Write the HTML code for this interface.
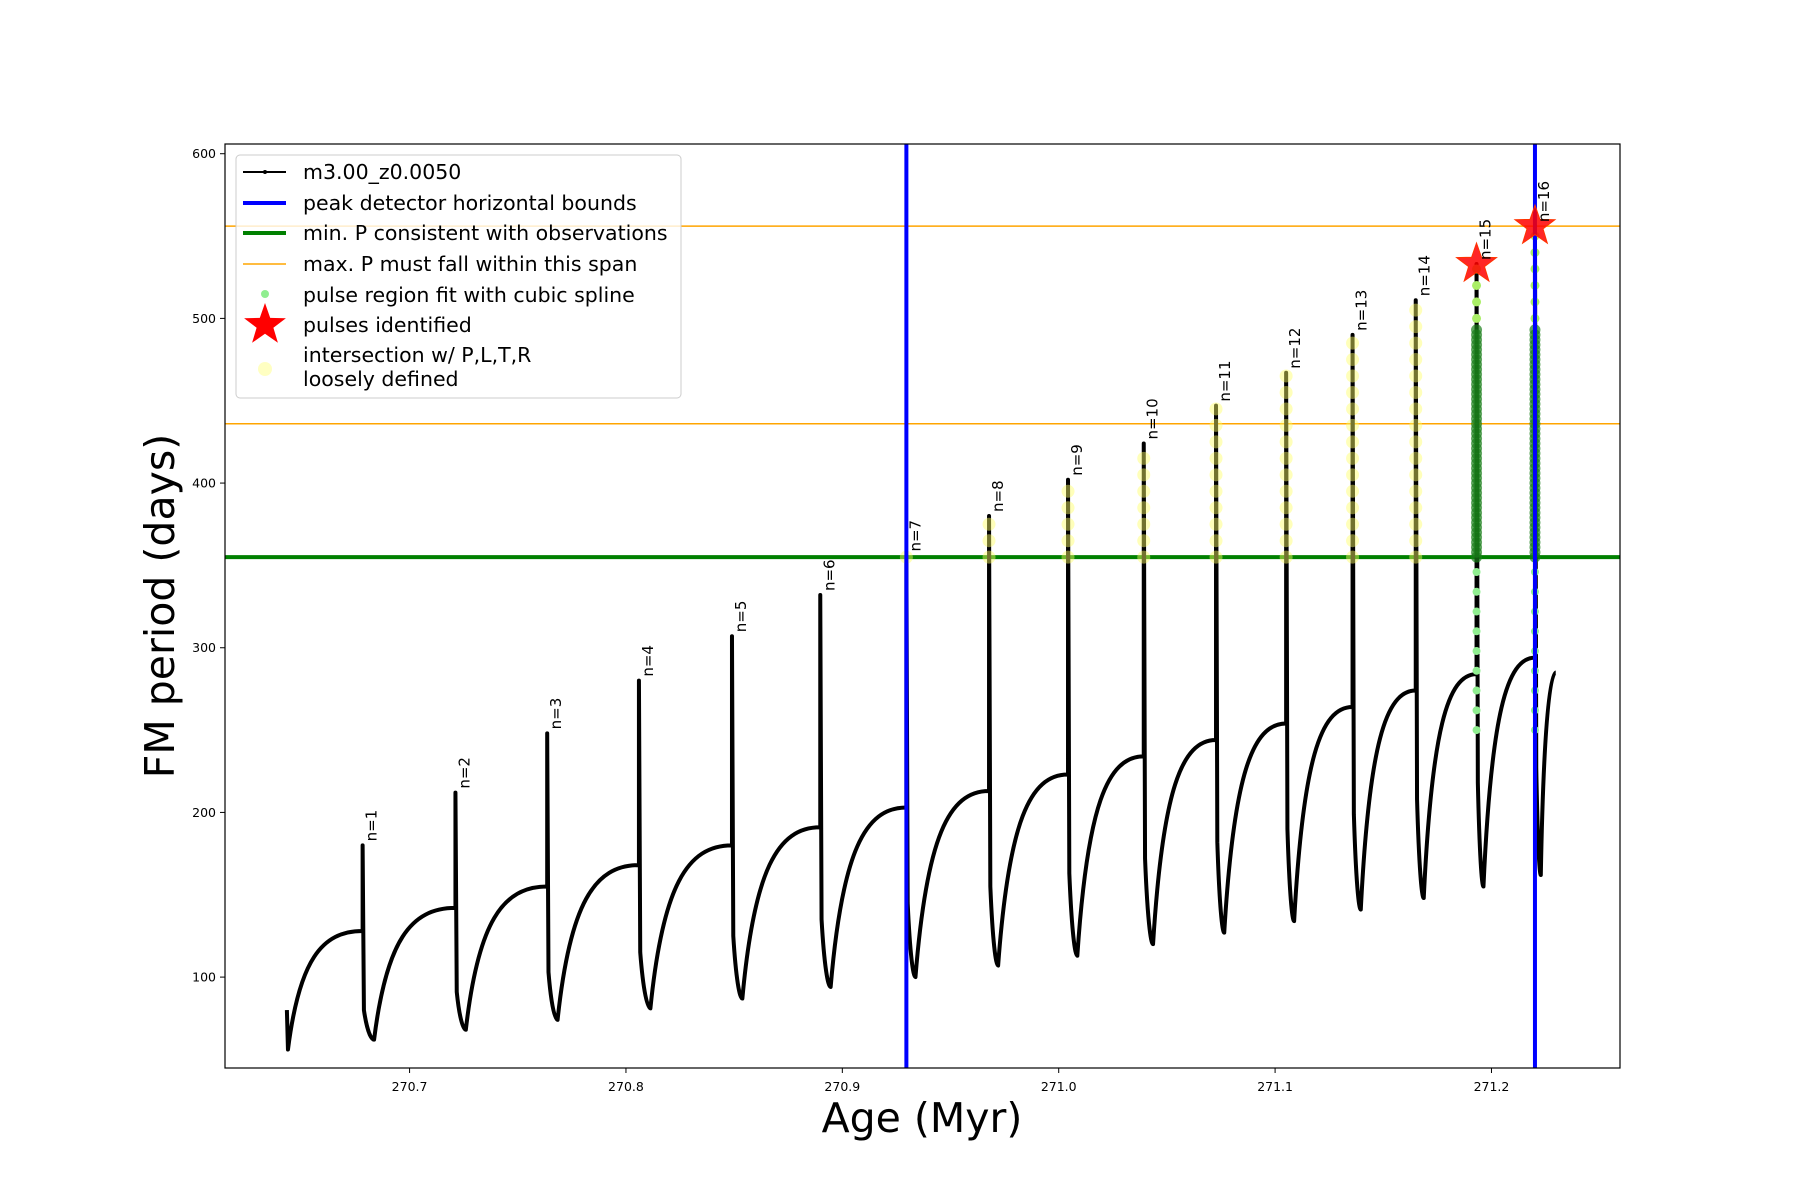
<!DOCTYPE html>
<html><head><meta charset="utf-8"><style>
body{margin:0;background:#fff}
svg{display:block;font-family:"DejaVu Sans","Liberation Sans",sans-serif}
</style></head><body>
<svg id="chart" width="1800" height="1200" viewBox="0 0 1800 1200">
<rect x="0" y="0" width="1800" height="1200" fill="#fff"/>
<g id="plot"></g>
<rect x="225" y="144" width="1395" height="924" fill="none" stroke="#000" stroke-width="1.2"/>
<g id="ticks"></g>
<text x="922" y="1132" font-size="41" text-anchor="middle">Age (Myr)</text>
<text transform="translate(174,606) rotate(-90)" font-size="41" text-anchor="middle">FM period (days)</text>
<g>
<rect x="236" y="155" width="445" height="243" rx="4" fill="#fff" fill-opacity="0.8" stroke="#ccc" stroke-width="1"/>
<g font-size="20.5" fill="#000">
<g><line x1="243" y1="172" x2="286" y2="172" stroke="#000" stroke-width="2"/><circle cx="265" cy="172" r="2" fill="#000"/><text x="303" y="179">m3.00_z0.0050</text></g>
<g><line x1="243" y1="203" x2="286" y2="203" stroke="#0000ff" stroke-width="4"/><text x="303" y="210">peak detector horizontal bounds</text></g>
<g><line x1="243" y1="233" x2="286" y2="233" stroke="#008000" stroke-width="4"/><text x="303" y="240">min. P consistent with observations</text></g>
<g><line x1="243" y1="264" x2="286" y2="264" stroke="#ffa500" stroke-width="1.5"/><text x="303" y="271">max. P must fall within this span</text></g>
<g><circle cx="265" cy="294" r="4" fill="#90ee90"/><text x="303" y="302">pulse region fit with cubic spline</text></g>
<g><polygon id="lstar" fill="#ff0000"/><text x="303" y="332">pulses identified</text></g>
<g><circle cx="265" cy="369" r="7" fill="#ffff99" fill-opacity="0.6"/><text x="303" y="362">intersection w/ P,L,T,R</text><text x="303" y="386">loosely defined</text></g>
</g></g>
</svg>
<script>
const pulseAge=[270.6783,270.7212,270.7636,270.8060,270.849,270.8898,270.9296,270.9678,271.0043,271.0393,271.0727,271.1051,271.1358,271.165,271.1931,271.2201];
const peakP=[180,212,248,280,307,332,356,380,402,424,447,467,490,511,533,556];
const plateauP=[128,142,155,168,180,191,203,213,223,234,244,254,264,274,284,294];
const postP=[80,91,103,115,125,135,145,155,163,172,182,190,199,208,218,227];
const dipAge=[270.6836,270.726,270.7684,270.8113,270.8538,270.8946,270.9338,270.972,271.0086,271.0436,271.0765,271.1088,271.1396,271.1687,271.1963,271.2228];
const dipP=[62,68,74,81,87,94,100,107,113,120,127,134,141,148,155,162];
const startAge=[270.6433,270.6438];const startP=[80,56];
const endAge=271.2297;const endP=285;
const xTicks=[270.7,270.8,270.9,271.0,271.1,271.2];
const xTickLabels=["270.7","270.8","270.9","271.0","271.1","271.2"];
const yTicks=[100,200,300,400,500,600];
const vBounds=[270.9296,271.2201];
const minP=355;const maxSpan=[436,556];
const starAge=[271.1931,271.2201];const starP=[533,556];

const X0=270.6147,X1=271.2594,Y0=44.8,Y1=605.9;
const X=t=>225+(t-X0)/(X1-X0)*1395;
const Y=v=>1068-(v-Y0)/(Y1-Y0)*924;
const NS="http://www.w3.org/2000/svg";
const plot=document.getElementById('plot');
function mk(tag,attrs,parent){const e=document.createElementNS(NS,tag);for(const k in attrs)e.setAttribute(k,attrs[k]);(parent||plot).appendChild(e);return e;}
function starPts(cx,cy,R){let p=[];for(let i=0;i<10;i++){const r=i%2?R*0.4:R;const a=-Math.PI/2+i*Math.PI/5;p.push((cx+r*Math.cos(a)).toFixed(1)+','+(cy+r*Math.sin(a)).toFixed(1));}return p.join(' ');}
document.getElementById('lstar').setAttribute('points',starPts(265,325,22));

let hl=mk('line',{x1:225,x2:1620,y1:Y(minP),y2:Y(minP),stroke:'#008000','stroke-width':4});


maxSpan.forEach(v=>{const l=mk('line',{x1:225,x2:1620,y1:Y(v),y2:Y(v),stroke:'#ffa500','stroke-width':1.5});

});

let d=`M${X(startAge[0])},${Y(startP[0])} L${X(startAge[1])},${Y(startP[1])}`;
let prevT=startAge[1],prevV=startP[1];
for(let i=0;i<pulseAge.length;i++){
  const t=pulseAge[i],q=plateauP[i],s=t-prevT;
  d+=` C${X(prevT+0.15*s)},${Y(prevV+0.75*(q-prevV))} ${X(prevT+0.45*s)},${Y(q)} ${X(t)},${Y(q)}`;
  d+=` L${X(t)},${Y(peakP[i])} L${X(t+0.0006)},${Y(postP[i])}`;
  const ds=dipAge[i]-(t+0.0006);
  d+=` C${X(t+0.0006+0.3*ds)},${Y(dipP[i]+(postP[i]-dipP[i])*0.3)} ${X(dipAge[i]-0.3*ds)},${Y(dipP[i])} ${X(dipAge[i])},${Y(dipP[i])}`;
  prevT=dipAge[i];prevV=dipP[i];
}
{const s=endAge-prevT;d+=` C${X(prevT+0.15*s)},${Y(prevV+0.6*(endP-prevV))} ${X(prevT+0.5*s)},${Y(endP)} ${X(endAge)},${Y(endP)}`;}
const curve=mk('path',{d:d,fill:'none',stroke:'#000','stroke-width':4,'stroke-linejoin':'round'});



for(let i=6;i<14;i++){
  const g=mk('g',{});
  
  
  for(let v=minP;v<=peakP[i];v+=10){mk('circle',{cx:X(pulseAge[i]),cy:Y(v),r:6.5,fill:'#ffff66','fill-opacity':0.45},g);}
}
for(let i=14;i<16;i++){
  const g=mk('g',{});
  
  
  for(let v=250;v<minP;v+=12){mk('circle',{cx:X(pulseAge[i]),cy:Y(v),r:4,fill:'#90ee90'},g);}
  for(let v=minP;v<=495;v+=3){mk('circle',{cx:X(pulseAge[i]),cy:Y(v),r:5.5,fill:'#1a7f1a','fill-opacity':0.7},g);}
  for(let v=500;v<=peakP[i];v+=10){mk('circle',{cx:X(pulseAge[i]),cy:Y(v),r:4.5,fill:'#aaee66'},g);}
}
vBounds.forEach(t=>{const l=mk('line',{x1:X(t),x2:X(t),y1:144,y2:1068,stroke:'#0000ff','stroke-width':4});

});
for(let i=0;i<starAge.length;i++){const s=mk('polygon',{points:starPts(X(starAge[i]),Y(starP[i]),21),fill:'#ff0000','fill-opacity':0.85,stroke:'#ff3300','stroke-width':1});

}
for(let i=0;i<pulseAge.length;i++){const x=X(pulseAge[i])+14,y=Y(peakP[i])-4;
const tx=mk('text',{transform:`translate(${x},${y}) rotate(-90)`,'font-size':15});tx.textContent='n='+(i+1);

}

const tk=document.getElementById('ticks');
xTicks.forEach((t,i)=>{mk('line',{x1:X(t),x2:X(t),y1:1068,y2:1073,stroke:'#000'},tk);
const tx=mk('text',{x:X(t),y:1091,'font-size':12.5,'text-anchor':'middle'},tk);tx.textContent=xTickLabels[i];

});
yTicks.forEach(v=>{mk('line',{x1:220,x2:225,y1:Y(v),y2:Y(v),stroke:'#000'},tk);
const tx=mk('text',{x:216,y:Y(v)+4.5,'font-size':12.5,'text-anchor':'end'},tk);tx.textContent=v;

});
</script>
</body></html>
